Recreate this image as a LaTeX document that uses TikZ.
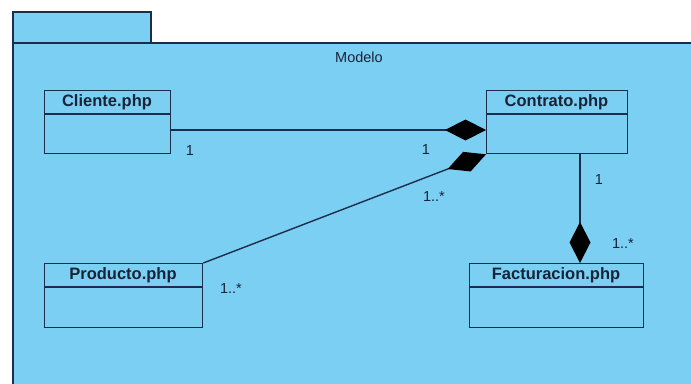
\documentclass[tikz,border=0pt]{standalone}
\usepackage{fontspec}
\setmainfont{Liberation Sans}
\usetikzlibrary{arrows.meta}
\definecolor{pkgfill}{RGB}{123,207,243}
\definecolor{edgec}{RGB}{28,45,75}
\definecolor{txtc}{RGB}{25,35,55}
\begin{document}
\begin{tikzpicture}[x=1pt,y=-1pt,
  pkg/.style={draw=edgec, line width=1.6pt, fill=pkgfill},
  cls/.style={draw=edgec, line width=1.3pt, fill=pkgfill, inner sep=0pt, anchor=north west},
  cname/.style={text=txtc, font=\fontsize{16.5}{19}\selectfont\bfseries, inner sep=0pt},
  mult/.style={text=txtc, font=\fontsize{14.5}{17}\selectfont, inner sep=0pt},
  divider/.style={draw=edgec, line width=1.3pt},
  conn/.style={draw=edgec, line width=1.4pt},
  comp/.style={conn, -{Diamond[length=41pt,width=21pt,fill=black,color=black]}}
]
\useasboundingbox (0,0) rectangle (691,383);
% package
\fill[pkgfill] (13,12) rectangle (151,43);
\fill[pkgfill] (13,43) rectangle (695,390);
\draw[edgec, line width=1.6pt] (13,43) -- (13,12) -- (151,12) -- (151,43);
\draw[edgec, line width=1.6pt] (695,43) -- (13,43) -- (13,390);
\node[mult] (modelo) at (359,57) {Modelo};
% classes
\node[cls, minimum width=126pt, minimum height=63pt] (cli) at (44,90) {};
\node[cname] (clit) at (107,102) {Cliente.php};
\draw[divider] (cli.west |- 0,114) -- (cli.east |- 0,114);

\node[cls, minimum width=141pt, minimum height=63pt] (con) at (486,90) {};
\node[cname] (cont) at (556.5,102) {Contrato.php};
\draw[divider] (con.west |- 0,114) -- (con.east |- 0,114);

\node[cls, minimum width=158pt, minimum height=64pt] (pro) at (44,263) {};
\node[cname] (prot) at (123,275) {Producto.php};
\draw[divider] (pro.west |- 0,287) -- (pro.east |- 0,287);

\node[cls, minimum width=174pt, minimum height=64pt] (fac) at (469,263) {};
\node[cname] (fact) at (556,275) {Facturacion.php};
\draw[divider] (fac.west |- 0,287) -- (fac.east |- 0,287);
% connectors
\draw[comp] (cli.east |- 0,130) -- (con.west |- 0,130);
\draw[comp] (pro.north east) -- (con.south west);
\draw[comp] (con.south -| 580,0) -- (fac.north -| 580,0);
% multiplicities
\node[mult] (m1) at (190,151) {1};
\node[mult] (m2) at (426,150) {1};
\node[mult] (m3) at (434,197) {1..*};
\node[mult] (m4) at (599,180) {1};
\node[mult] (m5) at (623,244) {1..*};
\node[mult] (m6) at (231,289) {1..*};
\end{tikzpicture}
\end{document}
